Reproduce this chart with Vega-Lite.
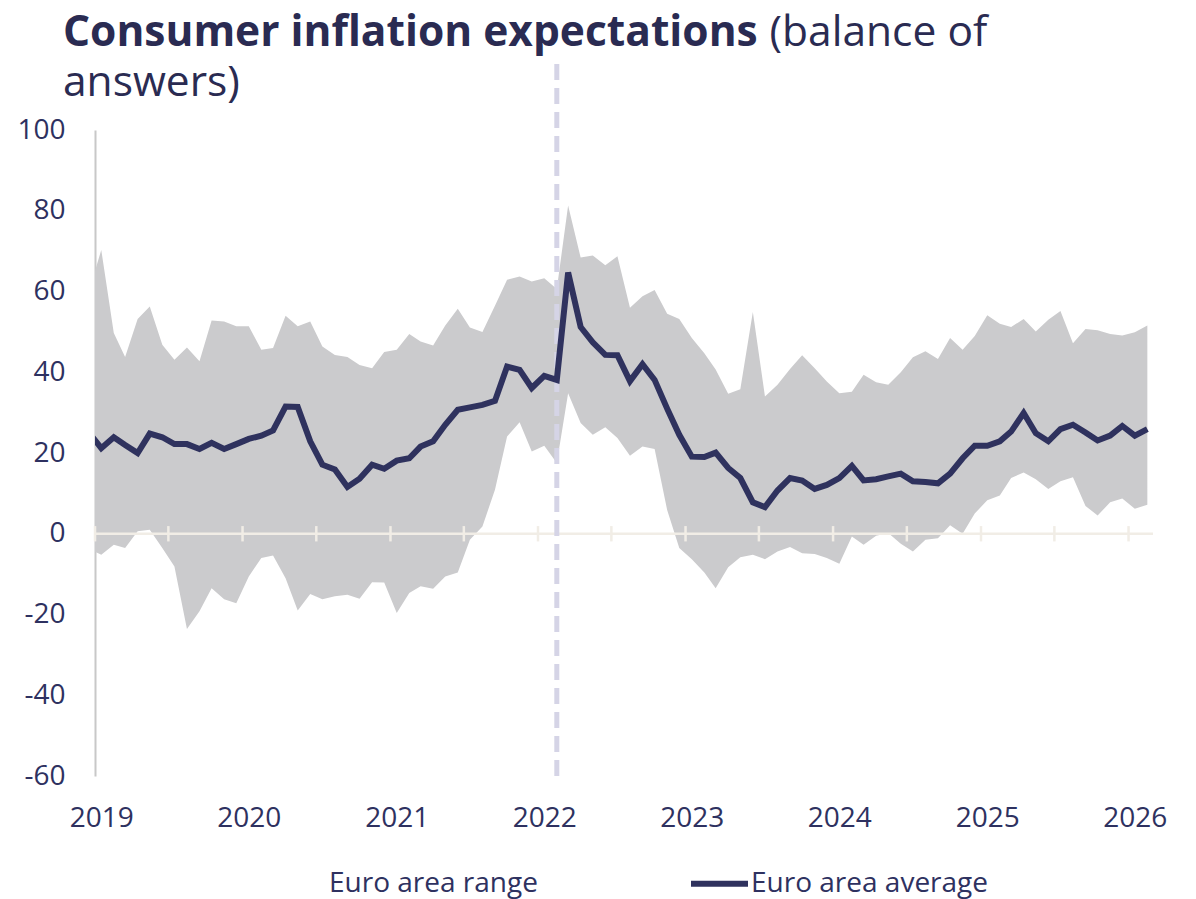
{
  "$schema": "https://vega.github.io/schema/vega-lite/v6.json",
  "width": 1058,
  "height": 646,
  "autosize": {"type": "none"},
  "padding": {"left": 95, "top": 130, "right": 43, "bottom": 123},
  "background": "white",
  "config": {
    "view": {"stroke": null},
    "font": "Open Sans"
  },
  "title": {
    "text": "Consumer inflation expectations",
    "subtitle": ["\u200b\u00a0\u00a0\u00a0\u00a0\u00a0\u00a0\u00a0\u00a0\u00a0\u00a0\u00a0\u00a0\u00a0\u00a0\u00a0\u00a0\u00a0\u00a0\u00a0\u00a0\u00a0\u00a0\u00a0\u00a0\u00a0\u00a0\u00a0\u00a0\u00a0\u00a0\u00a0\u00a0\u00a0\u00a0\u00a0\u00a0\u00a0\u00a0\u00a0\u00a0\u00a0\u00a0\u00a0\u00a0\u00a0\u00a0\u00a0\u00a0\u00a0\u00a0\u00a0\u00a0\u00a0\u00a0\u00a0\u00a0\u00a0\u00a0\u00a0\u00a0\u00a0\u00a0\u00a0\u00a0(balance of", "answers)"],
    "anchor": "start",
    "frame": "group",
    "dx": -32,
    "dy": 74,
    "offset": 28,
    "font": "Open Sans",
    "fontSize": 42.5,
    "fontWeight": "bold",
    "color": "#2a2b52",
    "subtitleFont": "Open Sans",
    "subtitleFontSize": 42.5,
    "subtitleFontWeight": "normal",
    "subtitleColor": "#2a2b52",
    "subtitleLineHeight": 50,
    "subtitlePadding": -42.5
  },
  "datasets": {
    "series": [
      {"date":"2018-12-01","avg":25.1,"lo":-3.7,"hi":59.8},
      {"date":"2019-01-01","avg":21.2,"lo":-5.2,"hi":70.3},
      {"date":"2019-02-01","avg":23.9,"lo":-2.7,"hi":49.7},
      {"date":"2019-03-01","avg":22.0,"lo":-3.5,"hi":43.8},
      {"date":"2019-04-01","avg":20.0,"lo":0.6,"hi":53.2},
      {"date":"2019-05-01","avg":24.8,"lo":1.0,"hi":56.3},
      {"date":"2019-06-01","avg":23.9,"lo":-3.5,"hi":46.8},
      {"date":"2019-07-01","avg":22.2,"lo":-8.1,"hi":43.1},
      {"date":"2019-08-01","avg":22.2,"lo":-23.6,"hi":46.1},
      {"date":"2019-09-01","avg":21.0,"lo":-19.2,"hi":42.7},
      {"date":"2019-10-01","avg":22.5,"lo":-13.5,"hi":52.8},
      {"date":"2019-11-01","avg":21.0,"lo":-16.2,"hi":52.6},
      {"date":"2019-12-01","avg":22.2,"lo":-17.2,"hi":51.4},
      {"date":"2020-01-01","avg":23.5,"lo":-10.6,"hi":51.4},
      {"date":"2020-02-01","avg":24.3,"lo":-6.0,"hi":45.6},
      {"date":"2020-03-01","avg":25.6,"lo":-5.4,"hi":46.0},
      {"date":"2020-04-01","avg":31.5,"lo":-11.0,"hi":54.0},
      {"date":"2020-05-01","avg":31.4,"lo":-19.0,"hi":51.4},
      {"date":"2020-06-01","avg":22.9,"lo":-14.9,"hi":52.6},
      {"date":"2020-07-01","avg":17.1,"lo":-16.2,"hi":46.4},
      {"date":"2020-08-01","avg":15.9,"lo":-15.5,"hi":44.3},
      {"date":"2020-09-01","avg":11.6,"lo":-15.1,"hi":43.8},
      {"date":"2020-10-01","avg":13.6,"lo":-16.1,"hi":41.8},
      {"date":"2020-11-01","avg":17.1,"lo":-12.0,"hi":41.0},
      {"date":"2020-12-01","avg":16.1,"lo":-12.1,"hi":45.0},
      {"date":"2021-01-01","avg":18.1,"lo":-19.6,"hi":45.6},
      {"date":"2021-02-01","avg":18.7,"lo":-14.7,"hi":49.5},
      {"date":"2021-03-01","avg":21.6,"lo":-13.0,"hi":47.6},
      {"date":"2021-04-01","avg":22.9,"lo":-13.6,"hi":46.6},
      {"date":"2021-05-01","avg":27.0,"lo":-10.6,"hi":51.6},
      {"date":"2021-06-01","avg":30.7,"lo":-9.6,"hi":55.7},
      {"date":"2021-07-01","avg":31.3,"lo":-1.5,"hi":51.1},
      {"date":"2021-08-01","avg":31.9,"lo":1.8,"hi":50.0},
      {"date":"2021-09-01","avg":32.9,"lo":10.9,"hi":56.5},
      {"date":"2021-10-01","avg":41.4,"lo":24.1,"hi":62.9},
      {"date":"2021-11-01","avg":40.6,"lo":27.6,"hi":63.7},
      {"date":"2021-12-01","avg":36.1,"lo":20.4,"hi":62.5},
      {"date":"2022-01-01","avg":39.1,"lo":21.8,"hi":63.3},
      {"date":"2022-02-01","avg":38.1,"lo":17.5,"hi":60.6},
      {"date":"2022-03-01","avg":64.7,"lo":34.8,"hi":81.3},
      {"date":"2022-04-01","avg":51.2,"lo":27.4,"hi":68.4},
      {"date":"2022-05-01","avg":47.4,"lo":24.5,"hi":68.9},
      {"date":"2022-06-01","avg":44.3,"lo":26.4,"hi":66.5},
      {"date":"2022-07-01","avg":44.2,"lo":23.7,"hi":68.7},
      {"date":"2022-08-01","avg":37.8,"lo":19.3,"hi":56.0},
      {"date":"2022-09-01","avg":42.0,"lo":21.6,"hi":58.8},
      {"date":"2022-10-01","avg":38.1,"lo":21.0,"hi":60.4},
      {"date":"2022-11-01","avg":31.0,"lo":5.9,"hi":54.5},
      {"date":"2022-12-01","avg":24.5,"lo":-3.5,"hi":53.2},
      {"date":"2023-01-01","avg":19.1,"lo":-6.3,"hi":48.5},
      {"date":"2023-02-01","avg":19.0,"lo":-9.6,"hi":44.7},
      {"date":"2023-03-01","avg":20.1,"lo":-13.5,"hi":40.7},
      {"date":"2023-04-01","avg":16.3,"lo":-8.3,"hi":34.7},
      {"date":"2023-05-01","avg":13.8,"lo":-5.8,"hi":35.8},
      {"date":"2023-06-01","avg":7.8,"lo":-5.2,"hi":54.9},
      {"date":"2023-07-01","avg":6.6,"lo":-6.3,"hi":34.0},
      {"date":"2023-08-01","avg":10.7,"lo":-4.4,"hi":36.9},
      {"date":"2023-09-01","avg":13.8,"lo":-3.3,"hi":40.8},
      {"date":"2023-10-01","avg":13.2,"lo":-4.8,"hi":44.2},
      {"date":"2023-11-01","avg":11.1,"lo":-5.0,"hi":41.0},
      {"date":"2023-12-01","avg":12.1,"lo":-6.0,"hi":37.7},
      {"date":"2024-01-01","avg":13.8,"lo":-7.4,"hi":34.8},
      {"date":"2024-02-01","avg":16.8,"lo":-0.7,"hi":35.2},
      {"date":"2024-03-01","avg":13.2,"lo":-2.7,"hi":39.4},
      {"date":"2024-04-01","avg":13.5,"lo":-0.5,"hi":37.5},
      {"date":"2024-05-01","avg":14.2,"lo":0.2,"hi":36.9},
      {"date":"2024-06-01","avg":14.9,"lo":-2.5,"hi":40.0},
      {"date":"2024-07-01","avg":13.0,"lo":-4.4,"hi":43.7},
      {"date":"2024-08-01","avg":12.8,"lo":-1.5,"hi":45.2},
      {"date":"2024-09-01","avg":12.5,"lo":-1.1,"hi":43.3},
      {"date":"2024-10-01","avg":14.9,"lo":2.1,"hi":48.5},
      {"date":"2024-11-01","avg":18.7,"lo":0.0,"hi":45.6},
      {"date":"2024-12-01","avg":21.8,"lo":5.0,"hi":49.0},
      {"date":"2025-01-01","avg":21.8,"lo":8.3,"hi":54.1},
      {"date":"2025-02-01","avg":22.9,"lo":9.5,"hi":52.0},
      {"date":"2025-03-01","avg":25.3,"lo":13.8,"hi":51.2},
      {"date":"2025-04-01","avg":29.9,"lo":15.2,"hi":53.2},
      {"date":"2025-05-01","avg":24.9,"lo":13.5,"hi":50.1},
      {"date":"2025-06-01","avg":22.9,"lo":11.1,"hi":53.0},
      {"date":"2025-07-01","avg":25.9,"lo":13.0,"hi":55.2},
      {"date":"2025-08-01","avg":27.0,"lo":14.0,"hi":47.2},
      {"date":"2025-09-01","avg":25.1,"lo":6.9,"hi":50.7},
      {"date":"2025-10-01","avg":23.1,"lo":4.5,"hi":50.4},
      {"date":"2025-11-01","avg":24.3,"lo":7.8,"hi":49.5},
      {"date":"2025-12-01","avg":26.7,"lo":8.7,"hi":49.1},
      {"date":"2026-01-01","avg":24.3,"lo":6.2,"hi":49.9},
      {"date":"2026-02-01","avg":25.9,"lo":7.2,"hi":51.6}
    ],
    "ticks": [
      {"date":"2018-12-16T12:00:00Z"},
      {"date":"2019-06-16T00:00:00Z"},
      {"date":"2019-12-16T12:00:00Z"},
      {"date":"2020-06-16T00:00:00Z"},
      {"date":"2020-12-16T12:00:00Z"},
      {"date":"2021-06-16T00:00:00Z"},
      {"date":"2021-12-16T12:00:00Z"},
      {"date":"2022-06-16T00:00:00Z"},
      {"date":"2022-12-16T12:00:00Z"},
      {"date":"2023-06-16T00:00:00Z"},
      {"date":"2023-12-16T12:00:00Z"},
      {"date":"2024-06-16T00:00:00Z"},
      {"date":"2024-12-16T12:00:00Z"},
      {"date":"2025-06-16T00:00:00Z"},
      {"date":"2025-12-16T12:00:00Z"}
    ],
    "zero": [{"level": 0}]
  },
  "layer": [
    {
      "data": {"name": "series"},
      "mark": {"type": "area", "color": "#cbcbcd", "clip": true},
      "encoding": {
        "x": {
          "field": "date",
          "type": "temporal",
          "scale": {
            "type": "utc",
            "domain": [
              {"year": 2018, "month": 12, "date": 16, "hours": 12, "utc": true},
              {"year": 2026, "month": 2, "date": 15, "utc": true}
            ]
          },
          "axis": {
            "title": null,
            "values": [
              {"year": 2019, "month": 1, "date": 1, "utc": true},
              {"year": 2020, "month": 1, "date": 1, "utc": true},
              {"year": 2021, "month": 1, "date": 1, "utc": true},
              {"year": 2022, "month": 1, "date": 1, "utc": true},
              {"year": 2023, "month": 1, "date": 1, "utc": true},
              {"year": 2024, "month": 1, "date": 1, "utc": true},
              {"year": 2025, "month": 1, "date": 1, "utc": true},
              {"year": 2026, "month": 1, "date": 1, "utc": true}
            ],
            "labelExpr": "utcFormat(datum.value, '%Y')",
            "ticks": false,
            "domain": false,
            "grid": false,
            "labelFont": "Open Sans",
            "labelFontSize": 28,
            "labelColor": "#2e3160",
            "labelPadding": 28,
            "labelFlush": false,
            "labelOverlap": false
          }
        },
        "y": {
          "field": "lo",
          "type": "quantitative",
          "scale": {"domain": [-60, 100], "nice": false, "zero": false},
          "axis": {
            "title": null,
            "values": [-60, -40, -20, 0, 20, 40, 60, 80, 100],
            "labelExpr": "toString(datum.value)",
            "ticks": false,
            "grid": false,
            "domain": true,
            "domainColor": "#c8c8c8",
            "domainWidth": 2,
            "labelFont": "Open Sans",
            "labelFontSize": 28,
            "labelColor": "#2e3160",
            "labelPadding": 30
          }
        },
        "y2": {"field": "hi"}
      }
    },
    {
      "data": {"name": "zero"},
      "mark": {"type": "rule", "color": "#f1ede6", "strokeWidth": 2.5},
      "encoding": {"y": {"field": "level", "type": "quantitative"}}
    },
    {
      "data": {"name": "ticks"},
      "mark": {"type": "rule", "color": "#f1ede6", "strokeWidth": 2.5},
      "encoding": {
        "x": {"field": "date", "type": "temporal"},
        "y": {"datum": -1.9},
        "y2": {"datum": 1.9}
      }
    },
    {
      "data": {"name": "zero"},
      "mark": {"type": "rule", "color": "#d5d4e6", "strokeWidth": 5, "strokeDash": [16, 8]},
      "encoding": {
        "x": {"datum": {"year": 2022, "month": 2, "date": 1, "utc": true}, "type": "temporal"},
        "y": {"datum": -60},
        "y2": {"datum": 117}
      }
    },
    {
      "data": {"name": "series"},
      "mark": {"type": "line", "strokeWidth": 6, "clip": true},
      "encoding": {
        "x": {"field": "date", "type": "temporal"},
        "y": {"field": "avg", "type": "quantitative"},
        "stroke": {
          "datum": "Euro area average",
          "scale": {
            "domain": ["Euro area range", "Euro area average"],
            "range": ["rgba(0,0,0,0)", "#2f325e"]
          },
          "legend": {
            "title": null,
            "orient": "none",
            "direction": "horizontal",
            "legendX": 171,
            "legendY": 722,
            "symbolType": "stroke",
            "symbolStrokeWidth": 6,
            "symbolSize": 3249,
            "labelFont": "Open Sans",
            "labelFontSize": 28,
            "labelColor": "#2e3160",
            "labelOffset": 0,
            "columnPadding": 141,
            "labelLimit": 400
          }
        }
      }
    }
  ]
}
